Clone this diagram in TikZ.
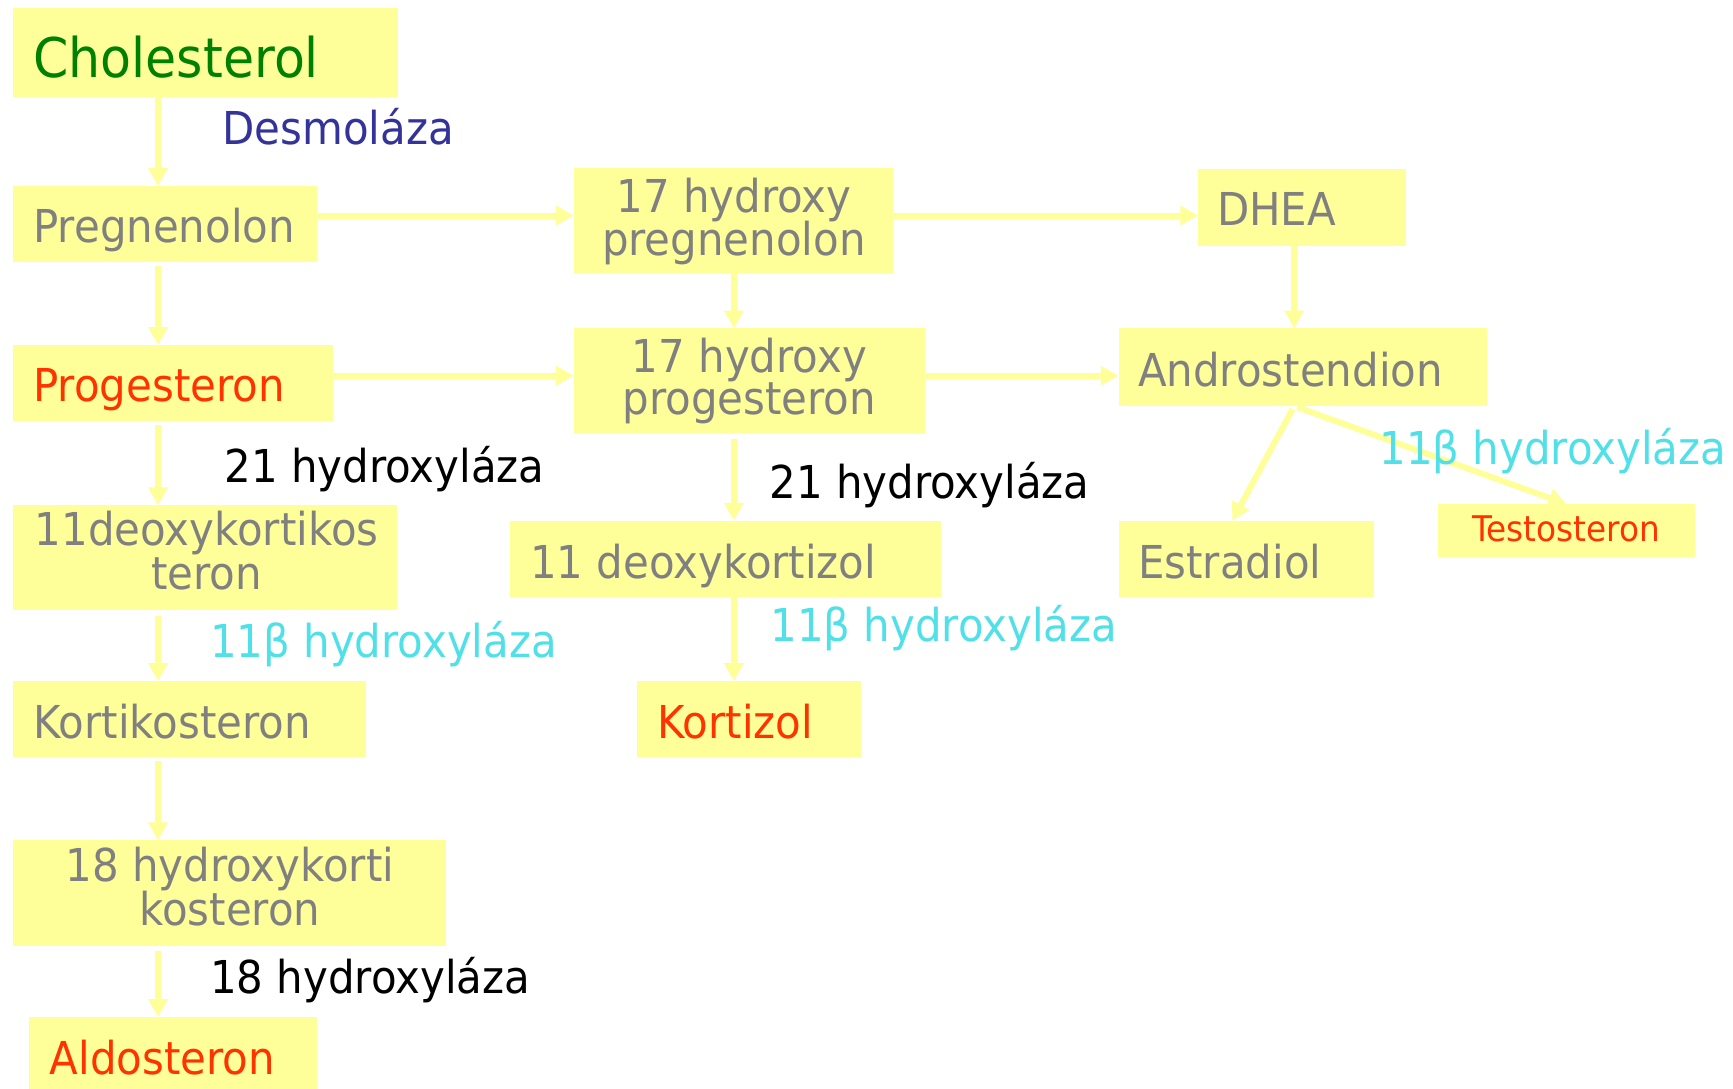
\documentclass[tikz,border=0pt]{standalone}
\usepackage{fontspec}
\setmainfont{DejaVu Sans}[FakeStretch=0.925]
\usetikzlibrary{arrows.meta}
\definecolor{boxy}{HTML}{FFFF99}
\definecolor{txtgrey}{HTML}{808080}
\definecolor{txtgreen}{HTML}{008000}
\definecolor{txtnavy}{HTML}{333399}
\definecolor{txtred}{HTML}{FF3300}
\definecolor{txtcyan}{HTML}{50E0E8}
\tikzset{
  box/.style={fill=boxy, inner sep=0pt, anchor=north west},
  txt/.style={inner sep=0pt, font=\fontsize{41}{39}\selectfont},
  gtxt/.style={txt, text=txtgrey},
  rtxt/.style={txt, text=txtred},
  ctxt/.style={txt, text=txtcyan},
  ktxt/.style={txt, text=black},
  arr/.style={draw=boxy, line width=5.4pt, -{Triangle[width=17pt,length=16pt]}},
}
\begin{document}
\begin{tikzpicture}[x=1pt,y=-1pt]
\fill[white] (0,0) rectangle (1568,985);
\useasboundingbox (0,0) rectangle (1568,985);
% column / row helpers
\coordinate (c1) at (143,0);
\coordinate (c2) at (664,0);
\coordinate (c3) at (1171,0);
\coordinate (ce) at (1115,0);
\coordinate (r1) at (0,195);
\coordinate (r2) at (0,340);
% boxes
\node[box, minimum width=348pt, minimum height=81pt] (chol) at (12,7) {};
\node[box, minimum width=275pt, minimum height=69pt] (preg) at (12,168) {};
\node[box, minimum width=289pt, minimum height=95pt] (hpreg) at (519,152) {};
\node[box, minimum width=188pt, minimum height=69pt] (dhea) at (1084,153) {};
\node[box, minimum width=289pt, minimum height=69pt] (prog) at (12,312) {};
\node[box, minimum width=318pt, minimum height=95pt] (hprog) at (519,297) {};
\node[box, minimum width=333pt, minimum height=70pt] (andr) at (1012,297) {};
\node[box, minimum width=347pt, minimum height=95pt] (dkst) at (12,457) {};
\node[box, minimum width=390pt, minimum height=69pt] (dkzl) at (461,471) {};
\node[box, minimum width=231pt, minimum height=69pt] (estr) at (1012,471) {};
\node[box, minimum width=232pt, minimum height=48pt] (test) at (1301,456) {};
\node[box, minimum width=319pt, minimum height=69pt] (kost) at (12,616) {};
\node[box, minimum width=203pt, minimum height=69pt] (kzl) at (576,616) {};
\node[box, minimum width=391pt, minimum height=96pt] (hkost) at (12,760) {};
\node[box, minimum width=261pt, minimum height=65pt] (aldo) at (26,920) {};
% texts
\node[txt, text=txtgreen, font=\fontsize{49.5}{50}\selectfont, anchor=base west] (tchol) at (30,70) {Cholesterol};
\node[gtxt, anchor=base west] (tpreg) at (30,219) {Pregnenolon};
\node[gtxt, anchor=base] (thp1) at (664,192) {17 hydroxy};
\node[gtxt, anchor=base] (thp2) at (664,231) {pregnenolon};
\node[gtxt, anchor=base west] (tdhea) at (1101,204) {DHEA};
\node[rtxt, anchor=base west] (tprog) at (30,363) {Progesteron};
\node[gtxt, anchor=base] (thg1) at (678,337) {17 hydroxy};
\node[gtxt, anchor=base] (thg2) at (678,375) {progesteron};
\node[gtxt, anchor=base west] (tandr) at (1029.5,350) {Androstendion};
\node[gtxt, anchor=base] (tdk1) at (187,494) {11deoxykortikos};
\node[gtxt, anchor=base] (tdk2) at (187,533) {teron};
\node[gtxt, anchor=base west] (tdkz) at (479.5,523) {11 deoxykortizol};
\node[gtxt, anchor=base west] (testr) at (1029.5,523) {Estradiol};
\node[rtxt, font=\fontsize{32}{32}\selectfont, anchor=base] (ttest) at (1417,490) {Testosteron};
\node[gtxt, anchor=base west] (tkost) at (30,668) {Kortikosteron};
\node[rtxt, anchor=base west] (tkzl) at (594.5,668) {Kortizol};
\node[gtxt, anchor=base] (thk1) at (208,798) {18 hydroxykorti};
\node[gtxt, anchor=base] (thk2) at (208,837) {kosteron};
\node[rtxt, anchor=base west] (taldo) at (45,972) {Aldosteron};
% enzyme labels
\node[txt, text=txtnavy, anchor=base west] (ldes) at (201,131) {Desmoláza};
% arrows
\draw[arr] (chol.south -| c1) -- (preg.north -| c1);
\draw[arr] (preg.east |- r1) -- (hpreg.west |- r1);
\draw[arr] (hpreg.east |- r1) -- (dhea.west |- r1);
\draw[arr, shorten <=3pt] (preg.south -| c1) -- (prog.north -| c1);
\draw[arr] (hpreg.south -| c2) -- (hprog.north -| c2);
\draw[arr] (dhea.south -| c3) -- (andr.north -| c3);
\draw[arr] (prog.east |- r2) -- (hprog.west |- r2);
\draw[arr] (hprog.east |- r2) -- (andr.west |- r2);
\draw[arr, shorten <=3pt] (prog.south -| c1) -- (dkst.north -| c1);
\draw[arr, shorten <=5pt] (hprog.south -| c2) -- (dkzl.north -| c2);
\draw[arr, shorten <=3pt] (andr.south -| c3) -- (estr.north -| ce);
\draw[arr, shorten <=3pt] (andr.south -| c3) -- (test.north);
\draw[arr, shorten <=5pt] (dkst.south -| c1) -- (kost.north -| c1);
\draw[arr] (dkzl.south -| c2) -- (kzl.north -| c2);
\draw[arr, shorten <=3pt] (kost.south -| c1) -- (hkost.north -| c1);
\draw[arr, shorten <=4pt] (hkost.south -| c1) -- (aldo.north -| c1);
% enzyme labels drawn over arrows
\node[ktxt, anchor=base west] (l21a) at (203,437) {21 hydroxyláza};
\node[ktxt, anchor=base west] (l21b) at (696,451) {21 hydroxyláza};
\node[ctxt, anchor=base west] (l11c) at (1248,420) {11β hydroxyláza};
\node[ctxt, anchor=base west] (l11a) at (190,595) {11β hydroxyláza};
\node[ctxt, anchor=base west] (l11b) at (697,580) {11β hydroxyláza};
\node[ktxt, anchor=base west] (l18) at (190,899) {18 hydroxyláza};
\end{tikzpicture}
\end{document}
